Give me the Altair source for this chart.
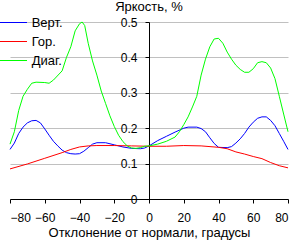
import altair as alt
import pandas as pd

# Brightness vs. deviation angle, three viewing directions
vert_angle = [-80, -77.5, -75, -72.5, -70, -67.5, -65, -62.5, -60, -57.5, -55, -52.5, -50,
              -47.5, -45, -42.5, -40, -37.5, -35, -32.5, -30, -25, -20, -15, -10, -5, -2.5,
              0, 5, 10, 15, 20, 22.5, 27.5, 30, 32.5, 35, 37.5, 40, 45, 47.5, 50, 52.5, 55,
              57.5, 60, 62.5, 65, 67.5, 70, 72.5, 75, 77.5, 80]
vert_value = [0.140, 0.158, 0.185, 0.203, 0.215, 0.221, 0.222, 0.215, 0.198, 0.180, 0.163,
              0.150, 0.138, 0.131, 0.128, 0.127, 0.128, 0.135, 0.145, 0.155, 0.159, 0.159,
              0.153, 0.147, 0.143, 0.142, 0.144, 0.150, 0.165, 0.177, 0.189, 0.200, 0.203,
              0.203, 0.199, 0.190, 0.173, 0.157, 0.146, 0.145, 0.148, 0.158, 0.170, 0.185,
              0.203, 0.217, 0.228, 0.232, 0.232, 0.222, 0.207, 0.185, 0.163, 0.140]

hor_angle = [-80, -70, -60, -50, -45, -40, -35, -30, -20, -10, 0, 10, 20, 30, 40, 45, 50,
             55, 60, 65, 70, 75, 80]
hor_value = [0.085, 0.099, 0.115, 0.131, 0.140, 0.147, 0.150, 0.151, 0.151, 0.150, 0.149,
             0.149, 0.151, 0.150, 0.146, 0.142, 0.133, 0.127, 0.120, 0.114, 0.103, 0.094,
             0.088]

diag_angle = [-80, -77.5, -75, -72.5, -70, -67.5, -65, -60, -57.5, -55, -50, -47.5, -45,
              -42.5, -40, -38.5, -37, -35, -32.5, -30, -27.5, -25, -22.5, -20, -17.5, -15,
              -12.5, -10, -7.5, -5, -2.5, 0, 5, 10, 15, 17.5, 20, 22.5, 25, 27.5, 30, 32.5,
              35, 37.5, 40, 42.5, 45, 47.5, 50, 52.5, 55, 57.5, 60, 62.5, 65, 67.5, 70,
              72.5, 75, 77.5, 80]
diag_value = [0.155, 0.190, 0.250, 0.290, 0.310, 0.327, 0.330, 0.329, 0.327, 0.336, 0.362,
              0.400, 0.430, 0.475, 0.495, 0.500, 0.490, 0.440, 0.390, 0.350, 0.305, 0.270,
              0.235, 0.205, 0.180, 0.162, 0.150, 0.144, 0.143, 0.145, 0.149, 0.150, 0.155,
              0.163, 0.175, 0.190, 0.210, 0.232, 0.260, 0.290, 0.350, 0.395, 0.430, 0.452,
              0.454, 0.440, 0.415, 0.395, 0.378, 0.366, 0.358, 0.358, 0.368, 0.385, 0.388,
              0.385, 0.370, 0.340, 0.290, 0.240, 0.190]

series_names = ["Верт.", "Гор.", "Диаг."]
series_colors = ["#0000FF", "#FF0000", "#00FF00"]
x_ticks = [-80, -60, -40, -20, 0, 20, 40, 60, 80]
y_ticks = [0, 0.1, 0.2, 0.3, 0.4, 0.5]

frames = []
for idx, (name, angles, values) in enumerate(zip(
        series_names, [vert_angle, hor_angle, diag_angle], [vert_value, hor_value, diag_value])):
    frames.append(pd.DataFrame({"angle": angles, "value": values, "series": name, "k": idx}))
df = pd.concat(frames, ignore_index=True)

legend_df = pd.DataFrame({"series": series_names, "color": series_colors,
                          "row": list(range(len(series_names)))})

FONT = "Liberation Sans"

lines = alt.Chart(df).mark_line(strokeWidth=1).encode(
    x=alt.X(
        "angle:Q",
        scale=alt.Scale(domain=[-80, 80], nice=False, zero=False),
        axis=alt.Axis(
            values=x_ticks, title="Отклонение от нормали, градусы", grid=False,
            tickSize=4, labelPadding=9, domainColor="black", tickColor="black",
            labelFontSize=12, titleFontSize=13, titleFontWeight="normal",
            titlePadding=3, labelColor="black", titleColor="black",
            labelFont=FONT, titleFont=FONT,
        ),
    ),
    y=alt.Y(
        "value:Q",
        scale=alt.Scale(domain=[0, 0.5], nice=False),
        axis=alt.Axis(
            values=y_ticks, format="~g", offset=-139, title=None, grid=True,
            gridColor="#C0C0C0", gridOpacity=1, tickSize=4, labelPadding=8,
            domainColor="black", tickColor="black", labelFontSize=12,
            labelColor="black", labelFont=FONT,
        ),
    ),
    color=alt.Color(
        "series:N",
        scale=alt.Scale(domain=series_names, range=series_colors),
        legend=None,
    ),
    order=alt.Order("k:Q"),
)

# Legend in the upper-left corner: short line sample plus label per series
legend_base = alt.Chart(legend_df).transform_calculate(
    ypix="0.5 + datum.row * 19"
)
legend_lines = legend_base.mark_rule(strokeWidth=1).encode(
    x=alt.value(-10),
    x2=alt.value(17),
    y=alt.Y("ypix:Q", scale=None, axis=None),
    color=alt.Color("color:N", scale=None, legend=None),
)
legend_text = legend_base.mark_text(
    align="left", baseline="middle", fontSize=13, font=FONT, color="black"
).encode(
    x=alt.value(21.7),
    y=alt.Y("ypix:Q", scale=None, axis=None),
    text="series:N",
)

chart = alt.layer(lines, legend_lines, legend_text).resolve_scale(
    y="independent", color="independent"
).properties(
    width=278,
    height=177,
    title=alt.TitleParams(
        "Яркость, %", anchor="middle", frame="group", fontSize=13,
        fontWeight="normal", font=FONT, color="black", offset=0,
        baseline="alphabetic", dy=8,
    ),
    padding={"left": 10, "top": 22, "right": 6, "bottom": 41},
    autosize="none",
).configure_view(stroke=None)

chart.save("out.html", embed_options={"renderer": "svg", "actions": False})
